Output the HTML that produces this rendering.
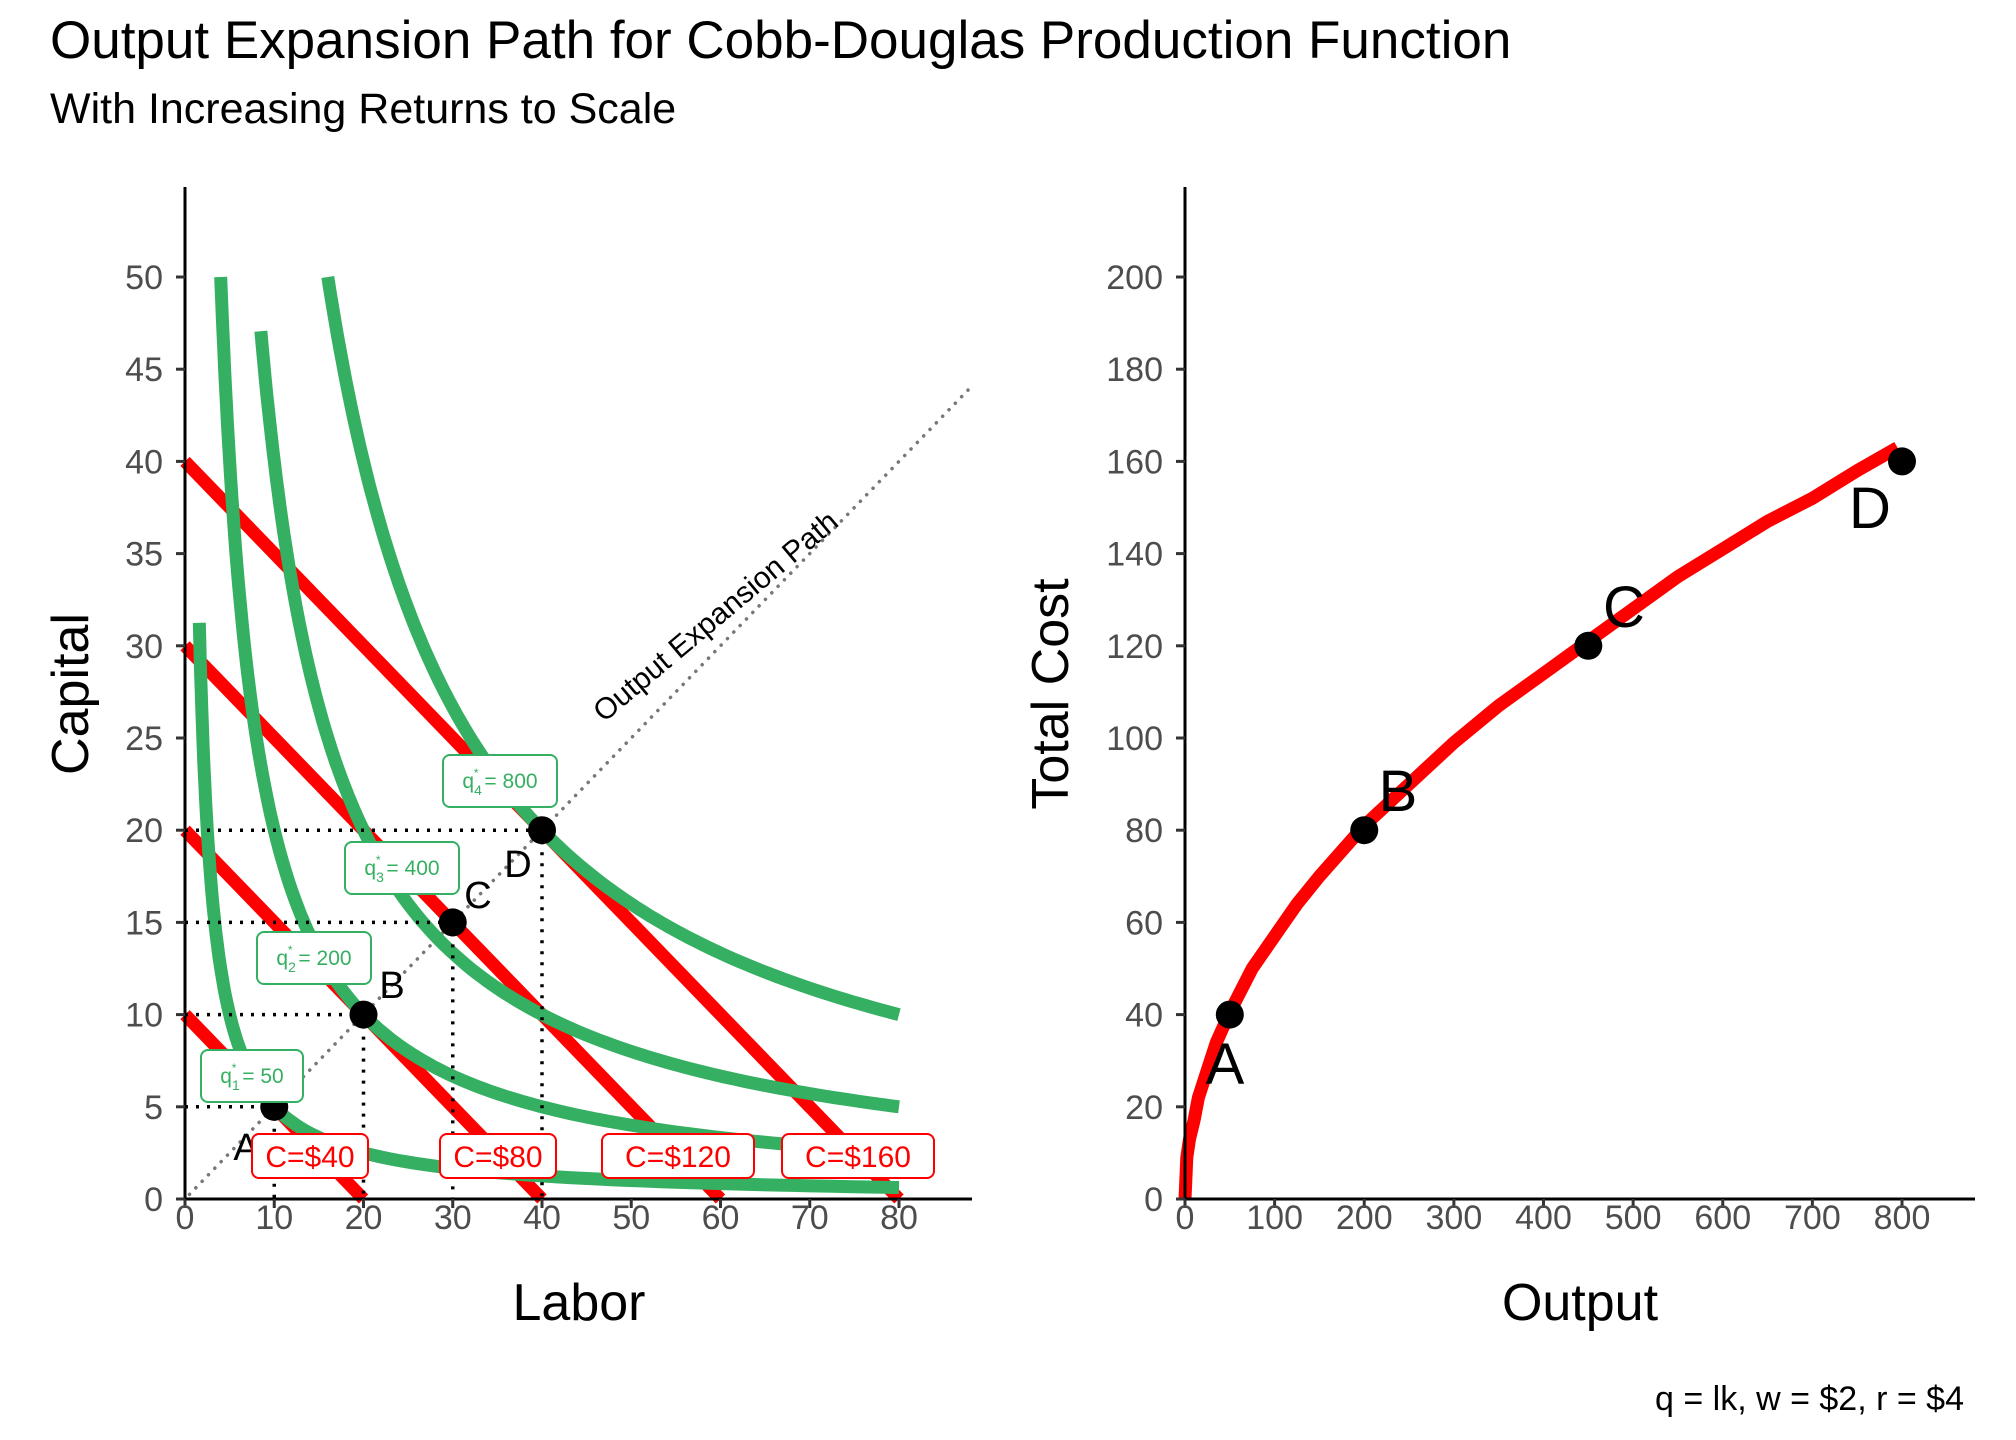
<!DOCTYPE html>
<html><head><meta charset="utf-8"><style>
body{margin:0;background:#fff;}
svg{display:block;font-family:"Liberation Sans",sans-serif;}
.cond{font-family:"Liberation Sans Narrow","Liberation Sans",sans-serif;}
</style></head><body>
<svg id="chart" width="2016" height="1440" xmlns="http://www.w3.org/2000/svg">
<text x="50" y="58" font-size="53" fill="#000">Output Expansion Path for Cobb-Douglas Production Function</text>
<text x="50" y="123" font-size="43" fill="#000">With Increasing Returns to Scale</text>
<text x="1964" y="1410" font-size="34" text-anchor="end" fill="#000">q = lk, w = $2, r = $4</text>
<g id="left"></g>
<g id="right"></g>
</svg>
<script>
// ---- data ----
const isoQ = [50, 200, 400, 800];
const isoLStart = [1.6, 4, 8.5, 16];
const isoLEnd = 80;
const costLevels = [40, 80, 120, 160];
const wage = 2, rent = 4;
const pointL = [10, 20, 30, 40];
const pointK = [5, 10, 15, 20];
const pointNames = ['A', 'B', 'C', 'D'];
const xTicksL = [0, 10, 20, 30, 40, 50, 60, 70, 80];
const yTicksL = [0, 5, 10, 15, 20, 25, 30, 35, 40, 45, 50];
const outputQ = [50, 200, 450, 800];
const totalCost = [40, 80, 120, 160];
const curveQ = [0, 2, 5, 10, 15, 25, 35, 50, 75, 100, 125, 150, 200, 250, 300, 350, 400, 450, 500, 550, 600, 650, 700, 750, 795];
const curveC = [0, 9, 13, 17, 22, 28, 34, 40.5, 50, 57, 64, 70, 81, 90, 99, 107, 114, 121, 128, 135, 141, 147, 152, 158, 163];
const xTicksR = [0, 100, 200, 300, 400, 500, 600, 700, 800];
const yTicksR = [0, 20, 40, 60, 80, 100, 120, 140, 160, 180, 200];

const NS = 'http://www.w3.org/2000/svg';
function mk(parent, tag, attrs, text) {
  const e = document.createElementNS(NS, tag);
  for (const k in attrs) e.setAttribute(k, attrs[k]);
  if (text !== undefined) e.textContent = text;
  parent.appendChild(e);
  return e;
}
const GREEN = '#35b062', RED = '#ff0000', TICK = '#4d4d4d';

// ---- left panel ----
const L = document.getElementById('left');
const Y0 = 1199, Y50 = 277;
const xL = v => 185 + v * (899 - 185) / 80;
const yL = v => Y0 - v * (Y0 - Y50) / 50;

let ep = mk(L, 'line', {x1: xL(0.5), y1: yL(0.25), x2: xL(88), y2: yL(44), stroke: '#777', 'stroke-width': 3.5, 'stroke-dasharray': '0.1 9', 'stroke-linecap': 'round'});


let ept = mk(L, 'text', {x: 0, y: 0, 'font-size': 30, 'text-anchor': 'middle', transform: 'translate(722,624) rotate(-40)'}, 'Output Expansion Path');



costLevels.forEach((c, i) => {
  const el = mk(L, 'line', {x1: xL(0), y1: yL(c / rent), x2: xL(c / wage), y2: yL(0), stroke: RED, 'stroke-width': 13});
  
  
});
isoQ.forEach((q, i) => {
  let d = '';
  const n = 120;
  for (let j = 0; j <= n; j++) {
    const l = isoLStart[i] * Math.pow(isoLEnd / isoLStart[i], j / n);
    d += (j ? 'L' : 'M') + xL(l).toFixed(1) + ',' + yL(q / l).toFixed(1);
  }
  const el = mk(L, 'path', {d: d, fill: 'none', stroke: GREEN, 'stroke-width': 13});
  
  
});
pointL.forEach((l, i) => {
  const k = pointK[i];
  const h = mk(L, 'line', {x1: xL(0), y1: yL(k), x2: xL(l), y2: yL(k), stroke: '#000', 'stroke-width': 3.5, 'stroke-dasharray': '3 8'});
  
  
  const v = mk(L, 'line', {x1: xL(l), y1: yL(k), x2: xL(l), y2: yL(0), stroke: '#000', 'stroke-width': 3.5, 'stroke-dasharray': '3 8'});
  
  
});
pointL.forEach((l, i) => {
  const p = mk(L, 'circle', {cx: xL(l), cy: yL(pointK[i]), r: 14, fill: '#000'});
  
  
});
const lblPos = [[246, 1160], [392, 998], [478, 908], [518, 877]];
pointNames.forEach((n, i) => {
  const t = mk(L, 'text', {x: lblPos[i][0], y: lblPos[i][1], 'font-size': 38, 'text-anchor': 'middle'}, n);
  
  
});
const gPos = [[252, 1076], [314, 958], [402, 868], [500, 781]];
isoQ.forEach((q, i) => {
  const g = mk(L, 'g', {});
  
  
  const w = q < 100 ? 102 : 114;
  mk(g, 'rect', {x: gPos[i][0] - w / 2, y: gPos[i][1] - 26, width: w, height: 52, rx: 7, fill: '#fff', stroke: GREEN, 'stroke-width': 2});
  const t = mk(g, 'text', {x: gPos[i][0], y: gPos[i][1] + 7, 'font-size': 21, 'text-anchor': 'middle', fill: GREEN});
  t.innerHTML = `q<tspan font-size="14" dy="7">${i + 1}</tspan><tspan font-size="12" dx="-8" dy="-18">*</tspan><tspan dy="11"> = ${q}</tspan>`;
});
const rX = [310, 498, 678, 858];
costLevels.forEach((c, i) => {
  const g = mk(L, 'g', {});
  
  
  const w = c < 100 ? 116 : 152;
  mk(g, 'rect', {x: rX[i] - w / 2, y: 1134, width: w, height: 44, rx: 7, fill: '#fff', stroke: RED, 'stroke-width': 2});
  mk(g, 'text', {x: rX[i], y: 1167, 'font-size': 30, 'text-anchor': 'middle', fill: RED}, 'C=$' + c);
});
let ax = mk(L, 'line', {x1: 185, y1: 187, x2: 185, y2: Y0 + 2, stroke: '#000', 'stroke-width': 3});


ax = mk(L, 'line', {x1: 183, y1: Y0, x2: 972, y2: Y0, stroke: '#000', 'stroke-width': 3});


xTicksL.forEach(v => {
  mk(L, 'line', {x1: xL(v), y1: Y0, x2: xL(v), y2: Y0 + 9, stroke: '#333', 'stroke-width': 3});
  const t = mk(L, 'text', {x: xL(v), y: 1229, 'font-size': 34, 'text-anchor': 'middle', fill: TICK, class: 'cond'}, v);
  
  
});
yTicksL.forEach(v => {
  mk(L, 'line', {x1: 176, y1: yL(v), x2: 185, y2: yL(v), stroke: '#333', 'stroke-width': 3});
  const t = mk(L, 'text', {x: 163, y: yL(v) + 12, 'font-size': 34, 'text-anchor': 'end', fill: TICK, class: 'cond'}, v);
  
  
});
let at = mk(L, 'text', {x: 579, y: 1320, 'font-size': 52, 'text-anchor': 'middle', class: 'cond'}, 'Labor');


at = mk(L, 'text', {x: 0, y: 0, 'font-size': 52, 'text-anchor': 'middle', class: 'cond', transform: 'translate(88,694) rotate(-90)'}, 'Capital');



// ---- right panel ----
const R = document.getElementById('right');
const xR = v => 1185 + v * (1902 - 1185) / 800;
const yR = v => Y0 - v * (Y0 - 277) / 200;
let cd = curveQ.map((q, i) => (i ? 'L' : 'M') + xR(q).toFixed(1) + ',' + yR(curveC[i]).toFixed(1)).join('');
let cp = mk(R, 'path', {d: cd, fill: 'none', stroke: RED, 'stroke-width': 13, 'stroke-linejoin': 'round'});


outputQ.forEach((q, i) => {
  const p = mk(R, 'circle', {cx: xR(q), cy: yR(totalCost[i]), r: 14, fill: '#000'});
  
  
});
const rl = [[1225, 1084], [1398, 811], [1624, 627], [1870, 528]];
pointNames.forEach((n, i) => {
  const t = mk(R, 'text', {x: rl[i][0], y: rl[i][1], 'font-size': 58, 'text-anchor': 'middle'}, n);
  
  
});
ax = mk(R, 'line', {x1: 1185, y1: 187, x2: 1185, y2: Y0 + 2, stroke: '#000', 'stroke-width': 3});


ax = mk(R, 'line', {x1: 1183, y1: Y0, x2: 1975, y2: Y0, stroke: '#000', 'stroke-width': 3});


xTicksR.forEach(v => {
  mk(R, 'line', {x1: xR(v), y1: Y0, x2: xR(v), y2: Y0 + 9, stroke: '#333', 'stroke-width': 3});
  const t = mk(R, 'text', {x: xR(v), y: 1229, 'font-size': 34, 'text-anchor': 'middle', fill: TICK, class: 'cond'}, v);
  
  
});
yTicksR.forEach(v => {
  mk(R, 'line', {x1: 1176, y1: yR(v), x2: 1185, y2: yR(v), stroke: '#333', 'stroke-width': 3});
  const t = mk(R, 'text', {x: 1163, y: yR(v) + 12, 'font-size': 34, 'text-anchor': 'end', fill: TICK, class: 'cond'}, v);
  
  
});
at = mk(R, 'text', {x: 1580, y: 1320, 'font-size': 52, 'text-anchor': 'middle', class: 'cond'}, 'Output');


at = mk(R, 'text', {x: 0, y: 0, 'font-size': 52, 'text-anchor': 'middle', class: 'cond', transform: 'translate(1068,694) rotate(-90)'}, 'Total Cost');


</script>
</body></html>
